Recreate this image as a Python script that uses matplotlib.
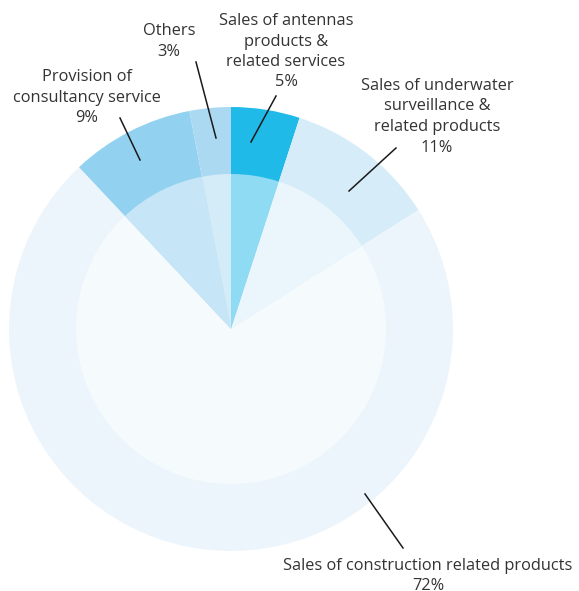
import matplotlib.pyplot as plt

# revenue split by segment, clockwise from 12 o'clock
segments = [
    "Sales of antennas\nproducts &\nrelated services",
    "Sales of underwater\nsurveillance &\nrelated products",
    "Sales of construction related products",
    "Provision of\nconsultancy service",
    "Others",
]
shares = [5, 11, 72, 9, 3]

outer_colors = ["#1fbae8", "#d6ecf9", "#edf5fc", "#93d1f0", "#acd9f2"]
inner_colors = ["#8fdbf3", "#eaf5fc", "#f5fafd", "#c6e6f7", "#d4ebf8"]

W, H = 579, 591
cx, cy = 231, H - 329

fig = plt.figure(figsize=(W / 100, H / 100), dpi=100)
ax = fig.add_axes([0, 0, 1, 1])

ax.pie(shares, radius=222, center=(cx, cy), colors=outer_colors,
       startangle=90, counterclock=False, wedgeprops=dict(linewidth=0))
ax.pie(shares, radius=155, center=(cx, cy), colors=inner_colors,
       startangle=90, counterclock=False, wedgeprops=dict(linewidth=0))

ax.set_xlim(0, W)
ax.set_ylim(0, H)
ax.axis("off")

# label placement (pixel coords from top-left): text centre x, first line y, leader line
layout = [
    (286, 21, (276, 96), (251, 142)),
    (437, 86, (396, 148), (349, 191)),
    (428, 566, (403, 548), (365, 494)),
    (87, 77, (120, 118), (140, 160)),
    (169, 31, (196, 62), (216, 138)),
]

txt_kw = dict(ha="center", va="center", fontsize=11.8, color="#333333",
              family="Open Sans", linespacing=1.3)

for name, share, (tx, ty, p0, p1) in zip(segments, shares, layout):
    lines = name.split("\n") + [f"{share}%"]
    for i, line in enumerate(lines):
        ax.text(tx, H - (ty + i * 20.5), line, **txt_kw)
    ax.plot([p0[0], p1[0]], [H - p0[1], H - p1[1]], color="#1a1a1a", lw=1.1)

fig.savefig("out.png", dpi=100)
